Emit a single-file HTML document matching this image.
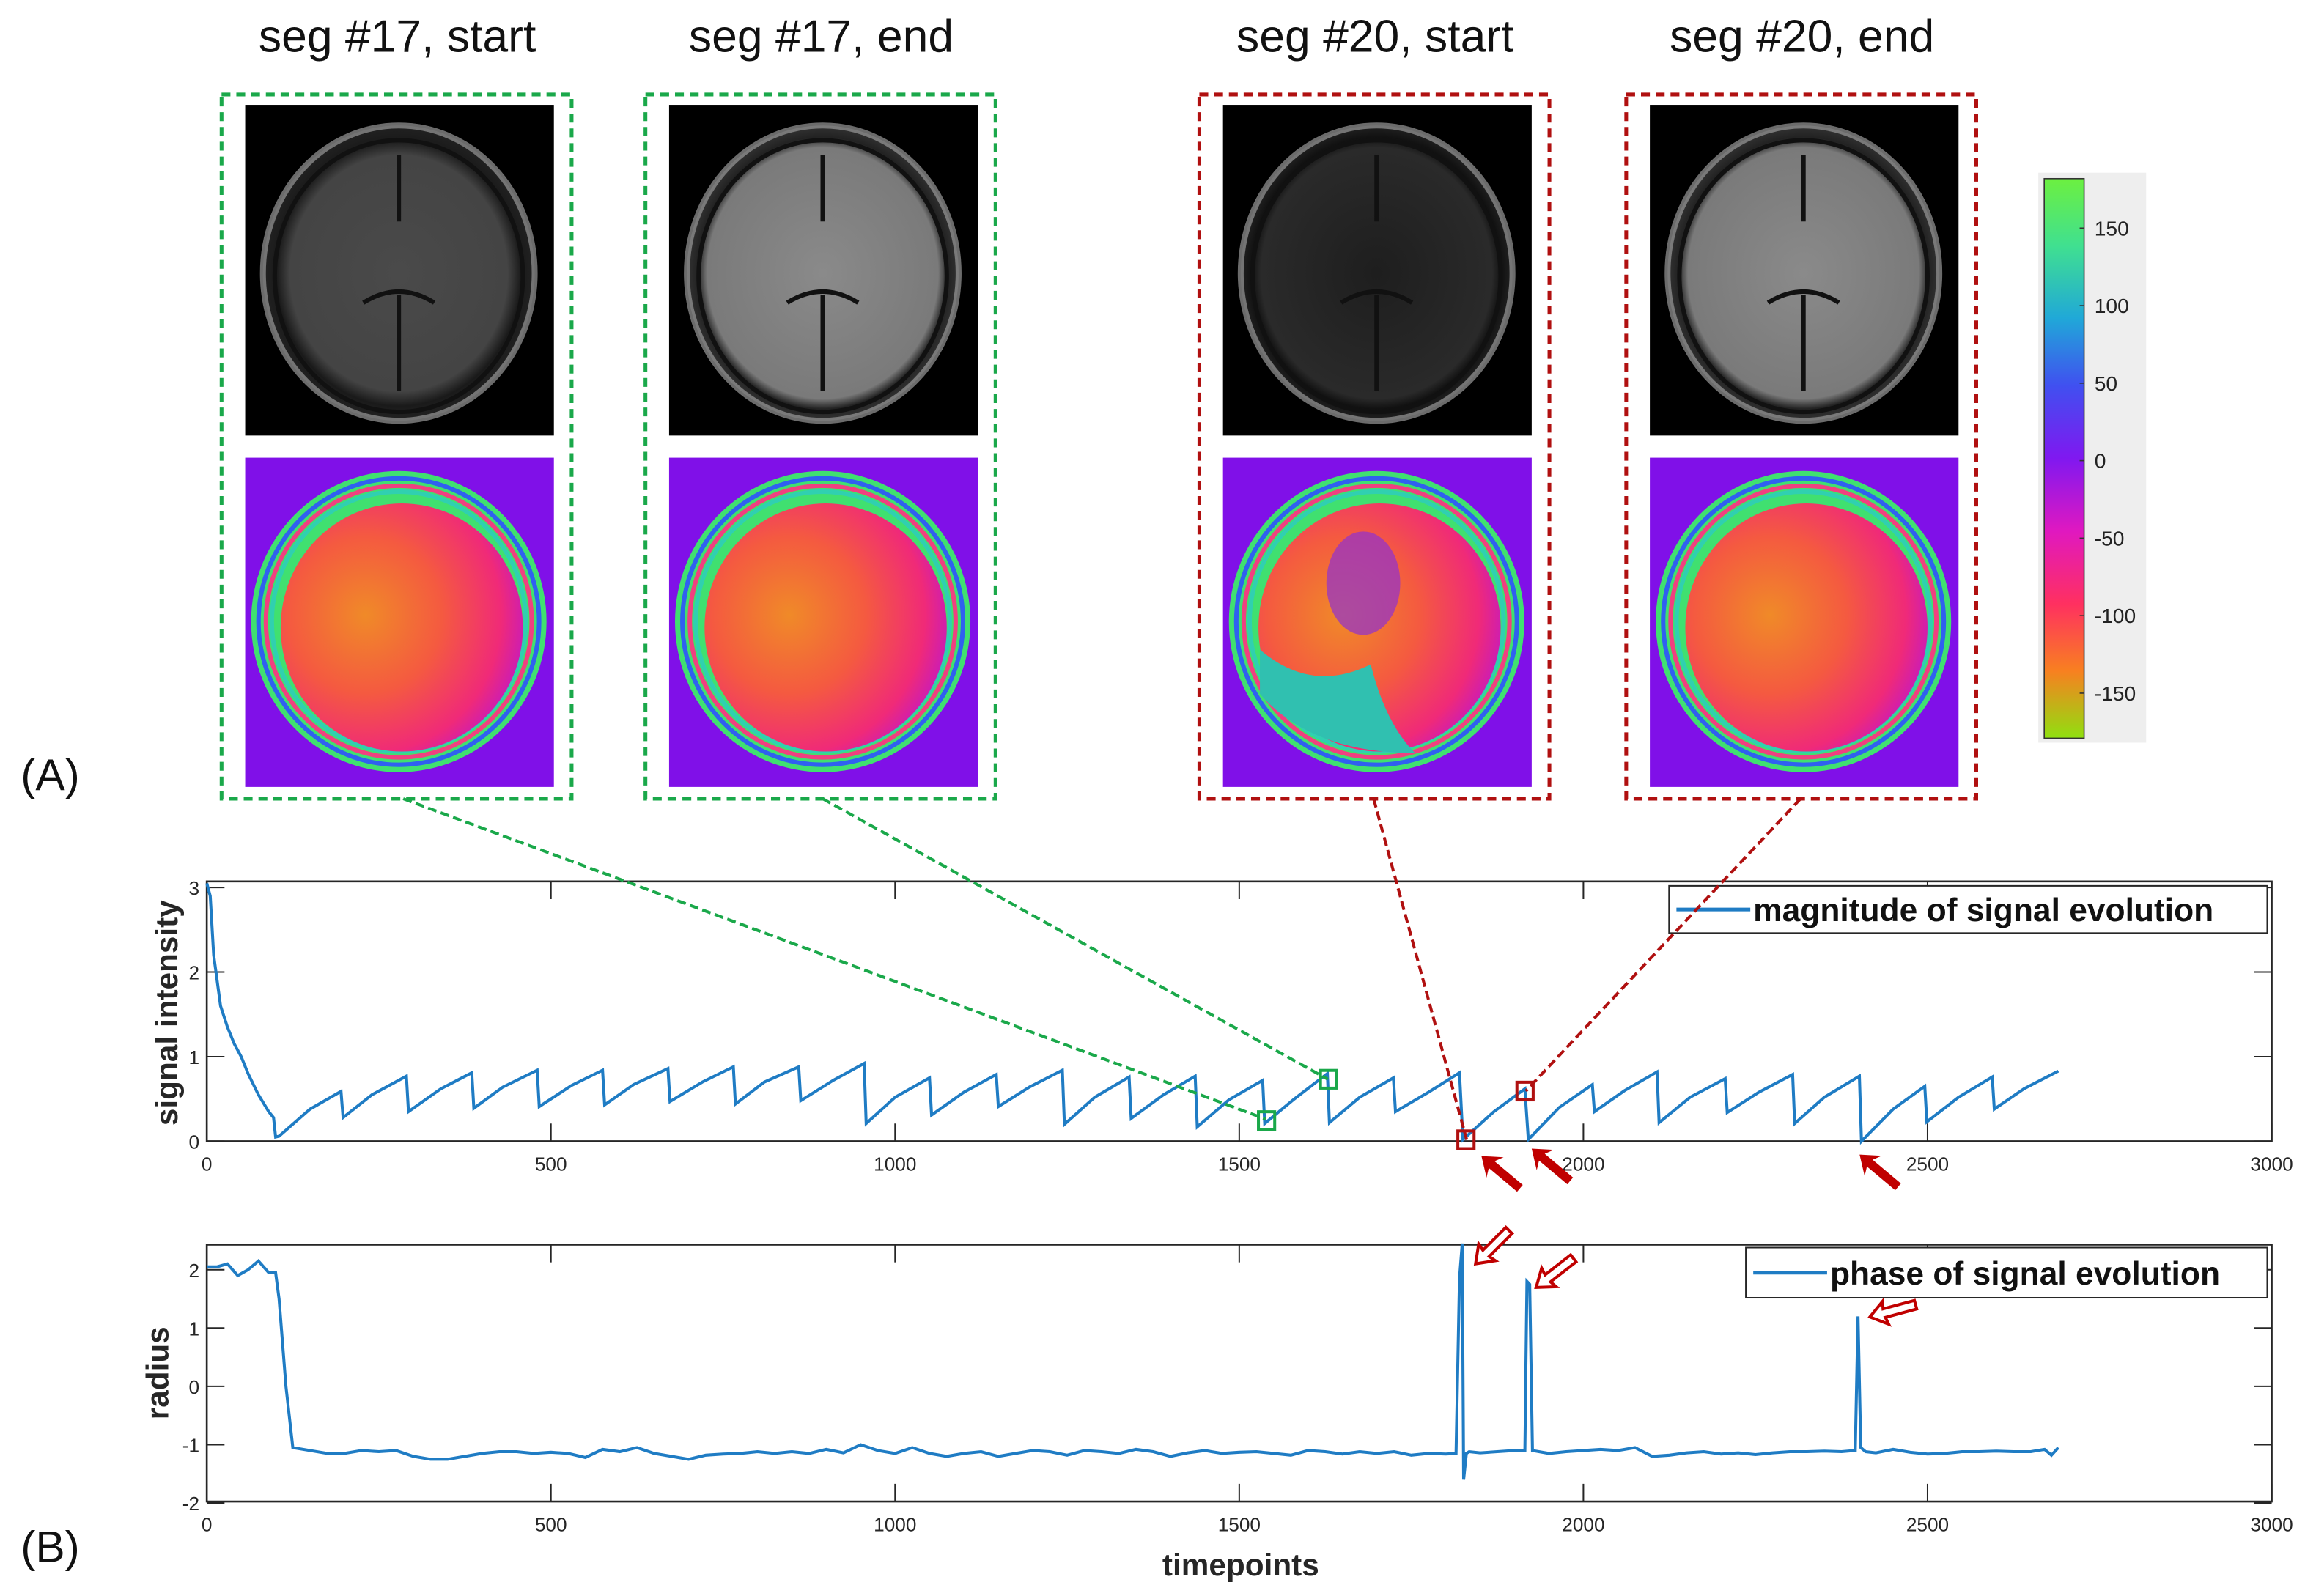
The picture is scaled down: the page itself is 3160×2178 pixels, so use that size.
<!DOCTYPE html>
<html><head><meta charset="utf-8">
<style>
html,body{margin:0;padding:0;background:#fff;}
svg{display:block;}
text{font-family:"Liberation Sans",sans-serif;}
</style></head>
<body>
<svg id="fig" width="3160" height="2178" viewBox="0 0 1568 1081" preserveAspectRatio="none" xmlns="http://www.w3.org/2000/svg">
<defs>
  <radialGradient id="brain" cx="50%" cy="50%" r="50%">
    <stop offset="0" stop-color="#4a4a4a"/><stop offset="0.8" stop-color="#444"/><stop offset="0.9" stop-color="#1a1a1a"/><stop offset="1" stop-color="#222"/>
  </radialGradient>
  <radialGradient id="brain2" cx="50%" cy="50%" r="50%">
    <stop offset="0" stop-color="#8a8a8a"/><stop offset="0.85" stop-color="#7a7a7a"/><stop offset="0.92" stop-color="#222"/><stop offset="1" stop-color="#333"/>
  </radialGradient>
  <radialGradient id="brain3" cx="50%" cy="50%" r="50%">
    <stop offset="0" stop-color="#1e1e1e"/><stop offset="0.85" stop-color="#2a2a2a"/><stop offset="0.92" stop-color="#111"/><stop offset="1" stop-color="#222"/>
  </radialGradient>
  <radialGradient id="phase" cx="35%" cy="45%" r="70%">
    <stop offset="0" stop-color="#f08a28"/><stop offset="0.45" stop-color="#f45a40"/><stop offset="0.8" stop-color="#f02a78"/><stop offset="1" stop-color="#c018c8"/>
  </radialGradient>
  <linearGradient id="cbar" x1="0" y1="0" x2="0" y2="1">
    <stop offset="0" stop-color="#6cf040"/><stop offset="0.12" stop-color="#40e090"/><stop offset="0.25" stop-color="#20a8d8"/><stop offset="0.37" stop-color="#4050f0"/><stop offset="0.5" stop-color="#8018f0"/><stop offset="0.63" stop-color="#e018c0"/><stop offset="0.76" stop-color="#ff3060"/><stop offset="0.88" stop-color="#f88020"/><stop offset="1" stop-color="#90e010"/>
  </linearGradient>
</defs>
<g id="panels"></g>
<g id="plots"></g>
</svg>
<script>
// ---------- data ----------
const magT = [0,5,10,20,30,40,50,60,75,90,97,100,105,150,195,198,240,290,293,340,385,388,430,480,483,530,575,578,620,670,673,720,765,768,810,860,863,910,955,958,1000,1050,1053,1100,1147,1150,1195,1243,1246,1290,1340,1343,1390,1436,1439,1485,1534,1537,1580,1628,1631,1675,1724,1727,1775,1820,1825,1870,1915,1920,1965,2013,2016,2060,2107,2110,2155,2206,2209,2255,2304,2307,2350,2401,2404,2450,2496,2499,2545,2594,2597,2640,2690];
const magV = [3.05,2.9,2.2,1.6,1.35,1.15,1.0,0.8,0.55,0.35,0.28,0.05,0.06,0.38,0.59,0.28,0.55,0.77,0.35,0.62,0.81,0.39,0.64,0.84,0.41,0.66,0.84,0.43,0.67,0.86,0.47,0.70,0.88,0.44,0.70,0.88,0.48,0.72,0.92,0.21,0.52,0.75,0.31,0.58,0.79,0.41,0.64,0.84,0.20,0.52,0.76,0.27,0.55,0.77,0.17,0.49,0.72,0.21,0.50,0.80,0.22,0.52,0.75,0.35,0.58,0.81,0.02,0.35,0.62,0.02,0.40,0.67,0.35,0.60,0.82,0.22,0.52,0.74,0.34,0.58,0.79,0.21,0.52,0.77,0.00,0.38,0.65,0.23,0.52,0.76,0.38,0.62,0.83];
const phaseT = [0,15,30,45,60,75,90,100,105,115,125,150,175,200,225,250,275,300,325,350,375,400,425,450,475,500,525,550,575,600,625,650,675,700,725,750,775,800,825,850,875,900,925,950,975,1000,1025,1050,1075,1100,1125,1150,1175,1200,1225,1250,1275,1300,1325,1350,1375,1400,1425,1450,1475,1500,1525,1550,1575,1600,1625,1650,1675,1700,1725,1750,1775,1800,1815,1820,1824,1826,1830,1834,1850,1875,1900,1915,1918,1922,1926,1950,1975,2000,2025,2050,2075,2100,2125,2150,2175,2200,2225,2250,2275,2300,2325,2350,2375,2395,2399,2403,2410,2425,2450,2475,2500,2525,2550,2575,2600,2625,2650,2670,2680,2690];
const phaseV = [2.05,2.05,2.1,1.9,2.0,2.15,1.95,1.95,1.5,0,-1.05,-1.1,-1.15,-1.15,-1.1,-1.12,-1.1,-1.2,-1.25,-1.25,-1.2,-1.15,-1.12,-1.12,-1.15,-1.13,-1.15,-1.22,-1.08,-1.12,-1.05,-1.15,-1.2,-1.25,-1.18,-1.16,-1.15,-1.12,-1.15,-1.12,-1.15,-1.08,-1.14,-1.0,-1.1,-1.15,-1.05,-1.15,-1.2,-1.15,-1.12,-1.2,-1.15,-1.1,-1.12,-1.18,-1.1,-1.12,-1.15,-1.08,-1.12,-1.2,-1.14,-1.1,-1.15,-1.13,-1.12,-1.15,-1.18,-1.1,-1.12,-1.16,-1.12,-1.15,-1.12,-1.18,-1.15,-1.16,-1.15,1.85,2.45,-1.6,-1.15,-1.12,-1.14,-1.12,-1.1,-1.1,1.8,1.75,-1.1,-1.15,-1.12,-1.1,-1.08,-1.1,-1.05,-1.2,-1.18,-1.14,-1.12,-1.16,-1.14,-1.17,-1.14,-1.12,-1.12,-1.11,-1.12,-1.1,1.2,-1.05,-1.12,-1.14,-1.08,-1.13,-1.16,-1.15,-1.12,-1.12,-1.11,-1.12,-1.12,-1.08,-1.18,-1.05];
const xTicks = [0,500,1000,1500,2000,2500,3000];
const magYTicks = [0,1,2,3];
const phaseYTicks = [-2,-1,0,1,2];
const cbarTicks = [150,100,50,0,-50,-100,-150];

const NS = "http://www.w3.org/2000/svg";
function mk(tag, attrs, parent){const e=document.createElementNS(NS,tag);for(const k in attrs)e.setAttribute(k,attrs[k]);parent.appendChild(e);return e;}
const P = document.getElementById('panels');
const G = document.getElementById('plots');

// ---------- image panels ----------
const panelX=[150,437,812,1101];
const panelCol=['#1aa84a','#1aa84a','#b01010','#b01010'];
const titles=['seg #17, start','seg #17, end','seg #20, start','seg #20, end'];
const brainFill=['url(#brain)','url(#brain2)','url(#brain3)','url(#brain2)'];
for(let i=0;i<4;i++){
  const x=panelX[i];
  const g=mk('g',{},P);
  
  
  const t=mk('text',{x:x+119,y:35,'font-size':31,'text-anchor':'middle',fill:'#111'},g);
  t.textContent=titles[i];
  
  
  const fr=mk('rect',{x:x,y:64,width:237,height:477,fill:'none',stroke:panelCol[i],'stroke-width':2.5,'stroke-dasharray':'6,4'},g);
  
  
  const ix=x+16;
  const mag=mk('g',{},g);
  
  
  mk('rect',{x:ix,y:71,width:209,height:224,fill:'#000'},mag);
  mk('ellipse',{cx:ix+104,cy:185,rx:92,ry:100,fill:brainFill[i],stroke:'#999','stroke-width':4,'stroke-opacity':0.7},mag);
  mk('ellipse',{cx:ix+104,cy:187,rx:84,ry:92,fill:'none',stroke:'#111','stroke-width':3},mag);
  mk('path',{d:`M${ix+104} 105 L${ix+104} 150 M${ix+80} 205 Q${ix+104} 190 ${ix+128} 205 M${ix+104} 200 L${ix+104} 265`,stroke:'#111','stroke-width':3,fill:'none'},mag);
  const ph=mk('g',{},g);
  
  
  mk('rect',{x:ix,y:310,width:209,height:223,fill:'#8010e8'},ph);
  mk('ellipse',{cx:ix+104,cy:421,rx:100,ry:102,fill:'#40e070'},ph);
  mk('ellipse',{cx:ix+104,cy:421,rx:95,ry:97,fill:'none',stroke:'#3060f0','stroke-width':3},ph);
  mk('ellipse',{cx:ix+104,cy:421,rx:90,ry:92,fill:'none',stroke:'#f04080','stroke-width':3},ph);
  mk('ellipse',{cx:ix+104,cy:421,rx:86,ry:88,fill:'none',stroke:'#30d0b0','stroke-width':3},ph);
  mk('ellipse',{cx:ix+106,cy:425,rx:82,ry:84,fill:'url(#phase)'},ph);
  if(i===2){
    mk('path',{d:`M${ix+25} 440 Q${ix+60} 470 ${ix+100} 450 Q${ix+110} 490 ${ix+130} 510 Q${ix+60} 510 ${ix+25} 470 Z`,fill:'#30c0b0'},ph);
    mk('ellipse',{cx:ix+95,cy:395,rx:25,ry:35,fill:'#9030d0','fill-opacity':0.7},ph);
  }
}
// colorbar
const cb=mk('g',{},P);


mk('rect',{x:1380,y:117,width:73,height:386,fill:'#eeeeee'},cb);
mk('rect',{x:1384,y:121,width:27,height:379,fill:'url(#cbar)',stroke:'#333','stroke-width':0.8},cb);
function cbY(v){return 312 - v*1.05;}
cbarTicks.forEach(v=>{
  mk('line',{x1:1408,x2:1411,y1:cbY(v),y2:cbY(v),stroke:'#333','stroke-width':0.8},cb);
  const t=mk('text',{x:1418,y:cbY(v)+5,'font-size':14,fill:'#222'},cb);
  t.textContent=String(v);
  
  
});
const la=mk('text',{x:14,y:535,'font-size':30,fill:'#111'},P); la.textContent='(A)';
 
const lb=mk('text',{x:14,y:1058,'font-size':30,fill:'#111'},P); lb.textContent='(B)';
 

// ---------- axes ----------
const X0=140,X1=1538;
function xs(t){return X0+t*(X1-X0)/3000;}
function yMag(v){return 773-v*57.3;}
function yPh(v){return 939-v*39.5;}

function axes(top,bot,yfn,yticks,name){
  const g=mk('g',{},G);
  
  
  mk('rect',{x:X0,y:top,width:X1-X0,height:bot-top,fill:'none',stroke:'#262626','stroke-width':1.3},g);
  xTicks.forEach(t=>{
    mk('line',{x1:xs(t),x2:xs(t),y1:bot,y2:bot-12,stroke:'#262626','stroke-width':1},g);
    mk('line',{x1:xs(t),x2:xs(t),y1:top,y2:top+12,stroke:'#262626','stroke-width':1},g);
    const tl=mk('text',{x:xs(t),y:bot+20,'font-size':13,'text-anchor':'middle',fill:'#262626'},g);
    tl.textContent=String(t);
    
    
  });
  yticks.forEach(v=>{
    mk('line',{x1:X0,x2:X0+12,y1:yfn(v),y2:yfn(v),stroke:'#262626','stroke-width':1},g);
    mk('line',{x1:X1,x2:X1-12,y1:yfn(v),y2:yfn(v),stroke:'#262626','stroke-width':1},g);
    const tl=mk('text',{x:X0-5,y:yfn(v)+5,'font-size':13,'text-anchor':'end',fill:'#262626'},g);
    tl.textContent=String(v);
    
    
  });
  return g;
}
const gm=axes(597,773,yMag,magYTicks,'magnitude-axes');
const gp=axes(843,1017,yPh,phaseYTicks,'phase-axes');

const yl1=mk('text',{x:0,y:0,'font-size':21,'font-weight':'bold','text-anchor':'middle',fill:'#262626',transform:'translate(120,686) rotate(-90)'},G);
yl1.textContent='signal intensity';
 
const yl2=mk('text',{x:0,y:0,'font-size':21,'font-weight':'bold','text-anchor':'middle',fill:'#262626',transform:'translate(114,930) rotate(-90)'},G);
yl2.textContent='radius';
 
const xl=mk('text',{x:840,y:1067,'font-size':21,'font-weight':'bold','text-anchor':'middle',fill:'#262626'},G);
xl.textContent='timepoints';
 

// series
const pm=mk('path',{d:magT.map((t,i)=>(i?'L':'M')+xs(t).toFixed(2)+' '+yMag(magV[i]).toFixed(2)).join(' '),fill:'none',stroke:'#1f7cc4','stroke-width':2},G);
 
const pp=mk('path',{d:phaseT.map((t,i)=>(i?'L':'M')+xs(t).toFixed(2)+' '+yPh(phaseV[i]).toFixed(2)).join(' '),fill:'none',stroke:'#1f7cc4','stroke-width':2},G);
 

// legends
function legend(x,y,w,h,label,name){
  const g=mk('g',{},G);
   
  mk('rect',{x:x,y:y,width:w,height:h,fill:'#fff',stroke:'#262626','stroke-width':1},g);
  mk('line',{x1:x+5,x2:x+55,y1:y+h/2,y2:y+h/2,stroke:'#1f7cc4','stroke-width':2.5},g);
  const t=mk('text',{x:x+57,y:y+h/2+8,'font-size':22,'font-weight':'bold',fill:'#111'},g);
  t.textContent=label;
}
legend(1130,600,405,32,'magnitude of signal evolution','legend-magnitude');
legend(1182,845,353,34,'phase of signal evolution','legend-phase');

// connectors & markers
const ann=mk('g',{},G);
 
[[273,541,857,758,'#1aa84a'],[557,541,899,731,'#1aa84a'],[930,541,993,772,'#b01010'],[1219,541,1033,739,'#b01010']].forEach(a=>{
  mk('line',{x1:a[0],y1:a[1],x2:a[2],y2:a[3],stroke:a[4],'stroke-width':2,'stroke-dasharray':'6,3'},ann);
});
[[852,753,'#1aa84a'],[894,725,'#1aa84a'],[987,766,'#b01010'],[1027,733,'#b01010']].forEach(s=>{
  mk('rect',{x:s[0],y:s[1],width:11,height:12,fill:'none',stroke:s[2],'stroke-width':2},ann);
});
function solidArrow(x,y,ang){
  const g=mk('g',{transform:`translate(${x},${y}) rotate(${ang})`},ann);
  mk('path',{d:'M0 0 L12 -9 L9 -3 L34 -3 L34 3 L9 3 L12 9 Z',fill:'#c00000'},g);
}
solidArrow(1003,783,40); solidArrow(1037,778,40); solidArrow(1259,782,40);
function hollowArrow(x,y,ang){
  const g=mk('g',{transform:`translate(${x},${y}) rotate(${ang})`},ann);
  mk('path',{d:'M0 0 L11 -8 L10 -3 L32 -3 L32 3 L10 3 L11 8 Z',fill:'#fff',stroke:'#c00000','stroke-width':2},g);
}
hollowArrow(999,856,-45); hollowArrow(1040,872,-38); hollowArrow(1266,892,-15);
</script>
</body></html>
